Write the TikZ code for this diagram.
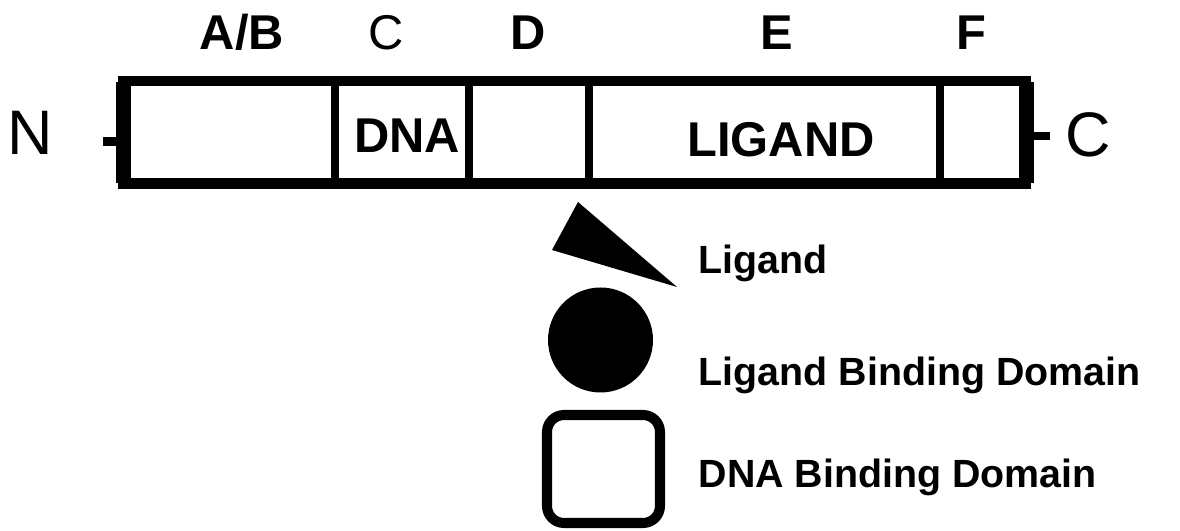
\documentclass[tikz,border=0pt]{standalone}
\usepackage{fontspec}
\setmainfont{Liberation Sans}
\tikzstyle{regionLabel}=[anchor = base, inner sep = 0pt, font = \bfseries\fontsize{13.9}{14}\selectfont]
\tikzstyle{regionLabelThin}=[anchor = base, inner sep = 0pt, font = \fontsize{13.9}{14}\selectfont]
\tikzstyle{endLabel}=[anchor = base, inner sep = 0pt, font = \fontsize{17.9}{18}\selectfont]
\tikzstyle{legendLabel}=[anchor = base west, inner sep = 0pt, font = \bfseries\fontsize{11.2}{12}\selectfont]

\begin{document}
\begin{tikzpicture}[scale = 1]
\tikzstyle{barEdge}=[line width = 2.85pt]
\tikzstyle{barEnd}=[line width = 4.27pt]
\tikzstyle{divider}=[line width = 2pt]
\tikzstyle{tick}=[line width = 2.3pt]
\useasboundingbox (0,0) rectangle (11.8,5.31);
% receptor bar
\draw[barEdge] (1.235,3.475) rectangle (10.26,4.50);
\draw[barEnd] (1.235,3.48) -- (1.235,4.49);
\draw[barEnd] (10.26,3.48) -- (10.26,4.49);
\foreach \x in {3.35, 4.69, 5.89, 9.40}
  \draw[divider] (\x,3.475) -- (\x,4.50);
\coordinate (nEnd) at (1.235,3.895);
\coordinate (nFree) at (1.03,3.895);
\coordinate (cEnd) at (10.26,3.95);
\coordinate (cFree) at (10.50,3.95);
\draw[tick] (nFree) -- (nEnd);
\draw[tick] (cEnd) -- (cFree);
% labels
\node[endLabel] (nTerm) at (0.30,3.76) {N};
\node[endLabel] (cTerm) at (10.88,3.74) {C};
\node[regionLabel] (rAB) at (2.42,4.81) {A/B};
\node[regionLabelThin] (rC) at (3.86,4.81) {C};
\node[regionLabel] (rD) at (5.28,4.81) {D};
\node[regionLabel] (rE) at (7.77,4.81) {E};
\node[regionLabel] (rF) at (9.71,4.81) {F};
\node[regionLabel] (dna) at (4.07,3.78) {DNA};
\node[regionLabel] (ligand) at (7.81,3.74) {LIGAND};
% legend
\fill (5.78,3.29) -- (5.52,2.81) -- (6.77,2.44) -- cycle;
\fill (6.005,1.91) circle (0.525);
\draw[barEdge, rounded corners = 0.17cm] (5.47,0.08) rectangle (6.60,1.16);
\node[legendLabel] (keyLigand) at (6.98,2.57) {Ligand};
\node[legendLabel] (keyLbd) at (6.98,1.45) {Ligand Binding Domain};
\node[legendLabel] (keyDbd) at (6.98,0.43) {DNA Binding Domain};
\end{tikzpicture}
\end{document}
